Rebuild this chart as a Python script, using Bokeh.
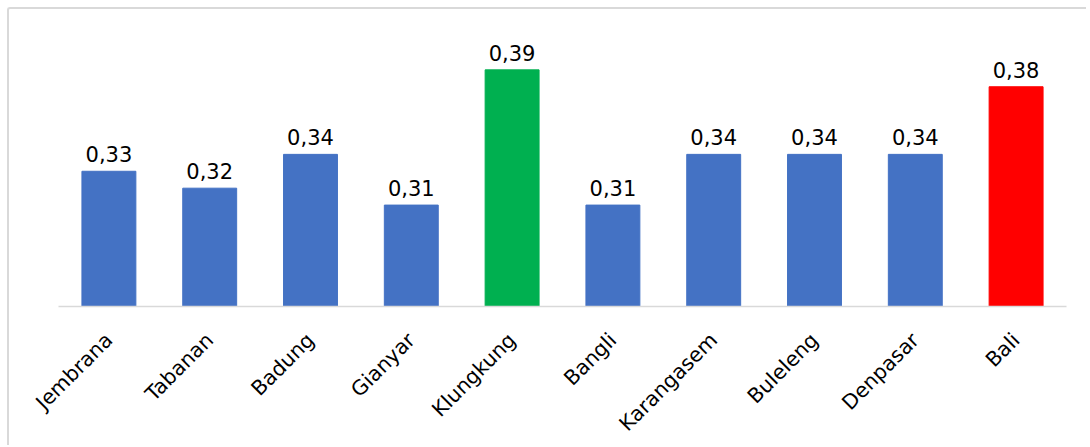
import math
from bokeh.plotting import figure
from bokeh.models import ColumnDataSource, FactorRange, Range1d
from bokeh.core.properties import value
from bokeh.embed import file_html
from bokeh.resources import INLINE

# Index values per regency/city in Bali
regions = ["Jembrana", "Tabanan", "Badung", "Gianyar", "Klungkung",
           "Bangli", "Karangasem", "Buleleng", "Denpasar", "Bali"]
values = [0.33, 0.32, 0.34, 0.31, 0.39, 0.31, 0.34, 0.34, 0.34, 0.38]
bar_colors = ["#4472C4", "#4472C4", "#4472C4", "#4472C4", "#00B050",
              "#4472C4", "#4472C4", "#4472C4", "#4472C4", "#FF0000"]
value_labels = [f"{v:.2f}".replace(".", ",") for v in values]

source = ColumnDataSource(dict(region=regions, val=values,
                               color=bar_colors, label=value_labels))

p = figure(
    x_range=FactorRange(*regions),
    y_range=Range1d(0.25, 0.4192),
    width=1079, height=438,
    output_backend="svg", toolbar_location=None,
    min_border_left=49, min_border_right=22,
    min_border_top=11, min_border_bottom=141,
)
p.styles = {
    "margin-left": "7px", "margin-top": "7px",
    "border-left": "2px solid #d9d9d9", "border-top": "2px solid #d9d9d9",
    "border-top-left-radius": "3px",
}

p.vbar(x="region", top="val", bottom=0.25, width=0.535,
       color="color", source=source)

p.text(x="region", y="val", text="label", source=source,
       text_align="center", text_baseline="alphabetic", y_offset=-17,
       text_font=value("DejaVu Sans"), text_font_size="21px",
       text_color="#000000")

p.outline_line_color = None
p.grid.grid_line_color = None
p.yaxis.visible = False

xa = p.xaxis[0]
xa.axis_line_color = "#d9d9d9"
xa.axis_line_width = 1.5
xa.major_tick_line_color = None
xa.minor_tick_line_color = None
xa.major_label_orientation = math.pi / 4
xa.major_label_standoff = 24
xa.major_label_text_font = "DejaVu Sans"
xa.major_label_text_font_size = "20.5px"
xa.major_label_text_color = "#000000"

open("out.html", "w").write(file_html(p, INLINE))
